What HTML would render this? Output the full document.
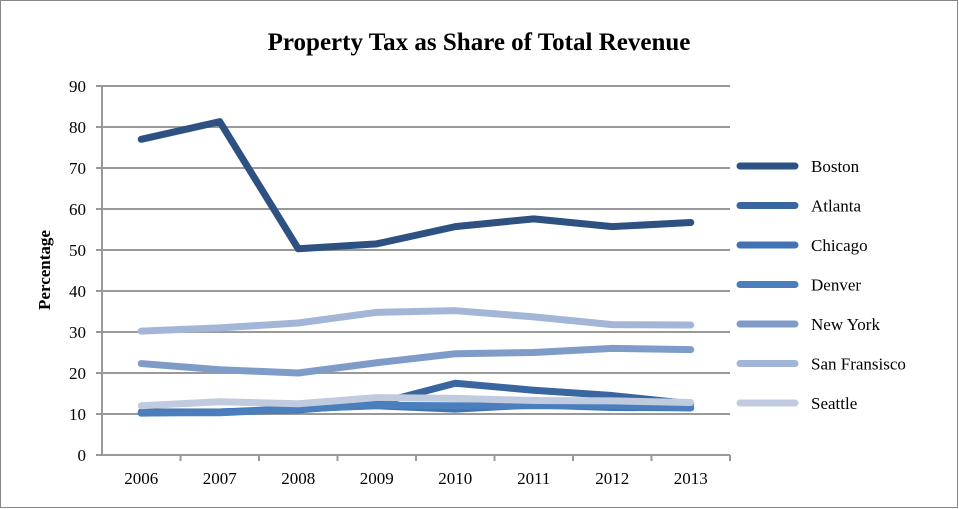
<!DOCTYPE html>
<html><head><meta charset="utf-8"><style>
body{margin:0;background:#fff}
svg{display:block;font-family:"Liberation Serif",serif}
</style></head><body>
<svg width="959" height="509">
<rect x="0.5" y="0.5" width="957" height="507" fill="#fff" stroke="#888"/>
<text x="479" y="50" text-anchor="middle" font-size="25" font-weight="bold">Property Tax as Share of Total Revenue</text>
<text transform="translate(50,270) rotate(-90)" text-anchor="middle" font-size="17" font-weight="bold">Percentage</text>
<g id="grid"></g><g id="series"></g><g id="legend"></g>
</svg>
<script>
const categories=["2006","2007","2008","2009","2010","2011","2012","2013"];
const yTicks=[0,10,20,30,40,50,60,70,80,90];
const seriesNames=["Boston","Atlanta","Chicago","Denver","New York","San Fransisco","Seattle"];
const boston=[77,81.3,50.3,51.5,55.7,57.6,55.7,56.7];
const atlanta=[10.5,10.5,11,12.5,17.5,15.8,14.5,12.5];
const chicago=[10.2,10.5,11.3,12,11.2,12.2,11.6,11.5];
const denver=[10.3,10.3,11.2,12.1,12,12,12,11.5];
const newYork=[22.3,20.8,20,22.5,24.7,25,26,25.7];
const sanFrancisco=[30.2,31,32.2,34.8,35.2,33.7,31.8,31.7];
const seattle=[12,13,12.5,14,13.8,13.3,13.2,12.8];
const seriesValues=[boston,atlanta,chicago,denver,newYork,sanFrancisco,seattle];
const colors=["#2d5282","#3a669f","#4173b4","#4a7ebd","#7f9cc9","#a4b6d7","#c0cbe0"];
const NS="http://www.w3.org/2000/svg";
const L=102,R=730,T=86,B=455;
const x=i=>L+(R-L)/categories.length*(i+0.5);
const y=v=>B-(v/90)*(B-T);
function mk(tag,attrs,parent){const e=document.createElementNS(NS,tag);for(const k in attrs)e.setAttribute(k,attrs[k]);parent.appendChild(e);return e;}
const grid=document.getElementById('grid');
yTicks.forEach(t=>{
 const l=mk('line',{x1:L-6,x2:R,y1:y(t),y2:y(t),stroke:'#999','stroke-width':2},grid);
 
 
 const tx=mk('text',{x:L-16,y:y(t)+6,'text-anchor':'end','font-size':17},grid);
 tx.textContent=t;
 
 
});
const ax=mk('line',{x1:L,x2:L,y1:T,y2:B,stroke:'#999','stroke-width':2},grid);


categories.forEach((c,i)=>{
 const tk=mk('line',{x1:L+(R-L)/categories.length*(i+1),x2:L+(R-L)/categories.length*(i+1),y1:B,y2:B+6,stroke:'#999','stroke-width':2},grid);
 
 
 const tx=mk('text',{x:x(i),y:B+29,'text-anchor':'middle','font-size':17},grid);
 tx.textContent=c;
 
 
});
const sg=document.getElementById('series'),lg=document.getElementById('legend');
seriesValues.forEach((vals,s)=>{
 const p=mk('polyline',{points:vals.map((v,i)=>x(i)+','+y(v)).join(' '),fill:'none',stroke:colors[s],'stroke-width':7,'stroke-linecap':'round','stroke-linejoin':'round'},sg);
 
 
 const ly=166+s*39.5;
 const ll=mk('line',{x1:740,x2:795,y1:ly,y2:ly,stroke:colors[s],'stroke-width':7,'stroke-linecap':'round'},lg);
 
 
 const lt=mk('text',{x:811,y:ly+6,'font-size':17},lg);
 lt.textContent=seriesNames[s];
 
 
});
</script>
</body></html>
